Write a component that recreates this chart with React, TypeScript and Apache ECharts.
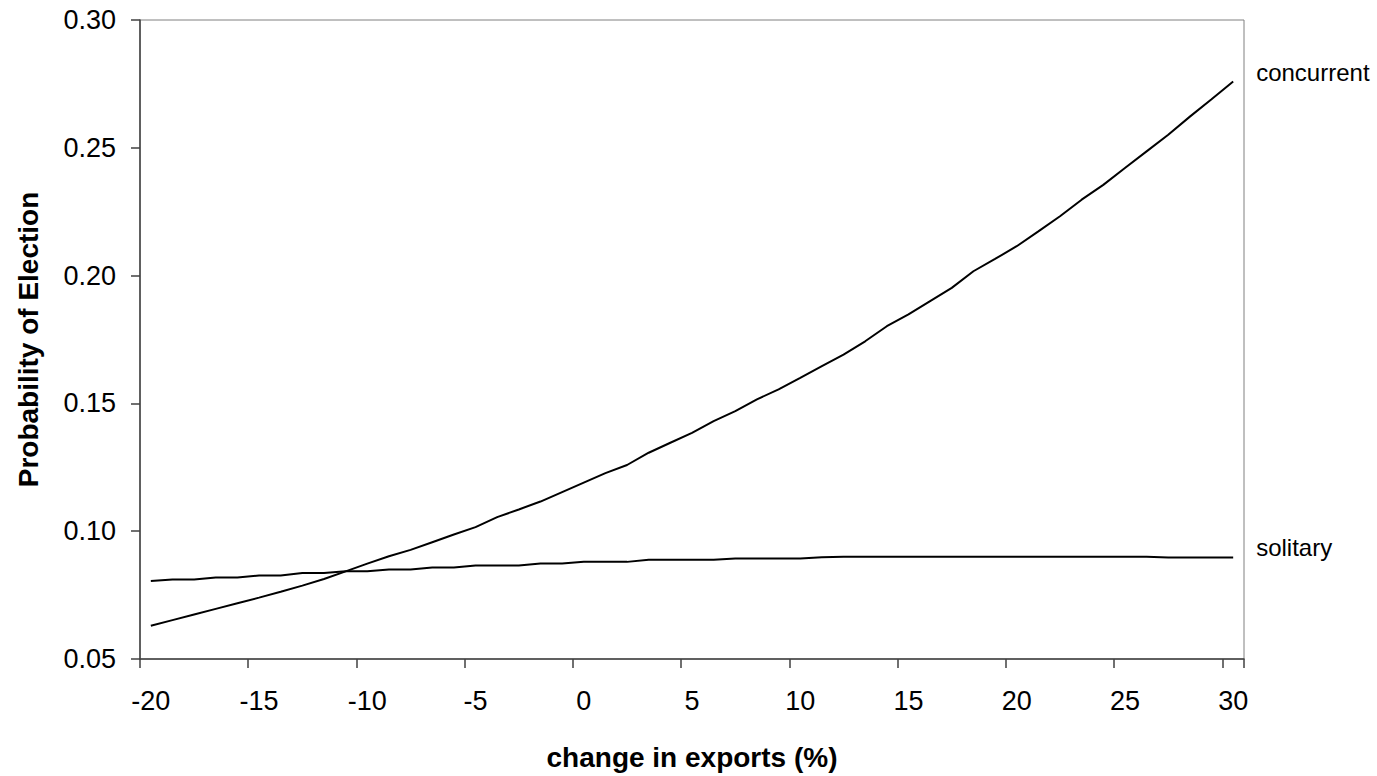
import React, { useEffect, useRef } from "react";
import * as echarts from "echarts";

const categories: string[] = [];
for (let v = -20; v <= 30; v++) categories.push(String(v));

const concurrent: number[] = [
  0.0630, 0.0652, 0.0674, 0.0696, 0.0718, 0.0740, 0.0763, 0.0787, 0.0813, 0.0843,
  0.0873, 0.0902, 0.0927, 0.0957, 0.0987, 0.1016, 0.1055, 0.1085, 0.1116, 0.1153,
  0.1190, 0.1227, 0.1259, 0.1307, 0.1346, 0.1385, 0.1431, 0.1470, 0.1516, 0.1555,
  0.1600, 0.1646, 0.1691, 0.1743, 0.1802, 0.1848, 0.1900, 0.1952, 0.2017, 0.2065,
  0.2115, 0.2173, 0.2232, 0.2297, 0.2355, 0.2421, 0.2486, 0.2551, 0.2622, 0.2690,
  0.2759,
];

const solitary: number[] = [
  0.0805, 0.0811, 0.0811, 0.0819, 0.0819, 0.0827, 0.0827, 0.0836, 0.0836, 0.0843,
  0.0843, 0.0850, 0.0850, 0.0858, 0.0858, 0.0866, 0.0866, 0.0866, 0.0874, 0.0874,
  0.0880, 0.0880, 0.0880, 0.0888, 0.0888, 0.0888, 0.0888, 0.0893, 0.0893, 0.0893,
  0.0893, 0.0898, 0.0900, 0.0900, 0.0900, 0.0900, 0.0900, 0.0900, 0.0900, 0.0900,
  0.0900, 0.0900, 0.0900, 0.0900, 0.0900, 0.0900, 0.0900, 0.0897, 0.0897, 0.0897,
  0.0897,
];

const seriesNames = ["concurrent", "solitary"];
const xTitle = "change in exports (%)";
const yTitle = "Probability of Election";

const FONT = "'Liberation Sans', Arial, Helvetica, sans-serif";

export default function App() {
  const ref = useRef<HTMLDivElement>(null);
  useEffect(() => {
    if (!ref.current) return;
    const chart = echarts.init(ref.current, undefined, { renderer: "svg" });
    chart.setOption({
      animation: false,
      backgroundColor: "#ffffff",
      textStyle: { fontFamily: FONT },
      grid: {
        left: 140,
        right: 133,
        top: 20,
        bottom: 116,
        show: true,
        borderColor: "#808080",
        borderWidth: 1,
        backgroundColor: "transparent",
      },
      xAxis: {
        type: "category",
        data: categories,
        boundaryGap: true,
        name: xTitle,
        nameLocation: "middle",
        nameGap: 84,
        nameTextStyle: { fontFamily: FONT, fontSize: 28, fontWeight: "bold", color: "#000" },
        axisLine: { show: true, lineStyle: { color: "#404040", width: 1.5 } },
        axisTick: { show: true, interval: 4, length: 9, lineStyle: { color: "#404040", width: 1.5 } },
        axisLabel: { interval: 4, margin: 28, fontFamily: FONT, fontSize: 27, color: "#000" },
        splitLine: { show: false },
      },
      yAxis: {
        type: "value",
        min: 0.05,
        max: 0.3,
        interval: 0.05,
        name: yTitle,
        nameLocation: "middle",
        nameGap: 98,
        nameRotate: 90,
        nameTextStyle: { fontFamily: FONT, fontSize: 28, fontWeight: "bold", color: "#000" },
        axisLine: { show: true, lineStyle: { color: "#404040", width: 1.5 } },
        axisTick: { show: true, length: 9, lineStyle: { color: "#404040", width: 1.5 } },
        axisLabel: {
          margin: 24,
          fontFamily: FONT,
          fontSize: 27,
          color: "#000",
          formatter: (v: number) => v.toFixed(2),
        },
        splitLine: { show: false },
      },
      series: [
        {
          name: seriesNames[0],
          type: "line",
          data: concurrent,
          symbol: "none",
          lineStyle: { color: "#000", width: 2 },
          endLabel: {
            show: true,
            formatter: seriesNames[0],
            fontFamily: FONT,
            fontSize: 24,
            color: "#000",
            distance: 23,
            offset: [0, -9],
          },
        },
        {
          name: seriesNames[1],
          type: "line",
          data: solitary,
          symbol: "none",
          lineStyle: { color: "#000", width: 2 },
          endLabel: {
            show: true,
            formatter: seriesNames[1],
            fontFamily: FONT,
            fontSize: 24,
            color: "#000",
            distance: 23,
            offset: [0, -10],
          },
        },
      ],
    });
    return () => chart.dispose();
  }, []);
  return (
    <div
      ref={ref}
      style={{ position: "fixed", left: 0, top: 0, width: 1377, height: 776, background: "#fff" }}
    />
  );
}
